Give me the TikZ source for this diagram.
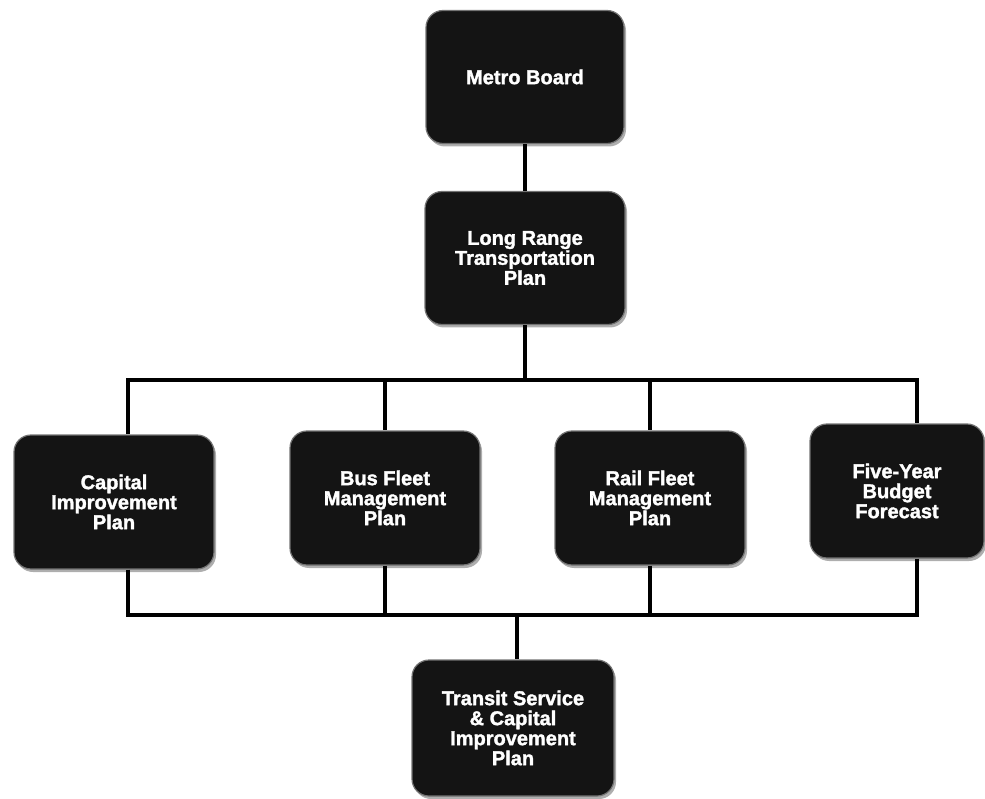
\documentclass[tikz,border=0pt]{standalone}
\usepackage{fontspec}
\newfontfamily\heavy{Liberation Sans}[FakeBold=1.6]
\usetikzlibrary{shadows}
\tikzset{
  box/.style={rectangle, rounded corners=17pt, fill=black!92, draw=black!55, line width=1.2pt,
    text=white, align=center, inner sep=0pt,
    font=\heavy\bfseries\fontsize{20}{20}\selectfont,
    drop shadow={shadow xshift=2pt, shadow yshift=-3pt, fill=black!45, opacity=0.7}},
  conn/.style={line width=3.8pt, black}
}
\begin{document}
\begin{tikzpicture}[x=1pt,y=-1pt]
\useasboundingbox (0,0) rectangle (985,799);
\node[box, minimum width=198pt, minimum height=133pt] (metro) at (525,77) {Metro Board};
\node[box, minimum width=200pt, minimum height=133pt] (lrtp) at (525,258) {Long Range\\Transportation\\Plan};
\node[box, minimum width=200pt, minimum height=134pt] (cip) at (114,502) {Capital\\Improvement\\Plan};
\node[box, minimum width=190pt, minimum height=134pt] (bus) at (385,498) {Bus Fleet\\Management\\Plan};
\node[box, minimum width=190pt, minimum height=134pt] (rail) at (650,498) {Rail Fleet\\Management\\Plan};
\node[box, minimum width=174pt, minimum height=134pt] (five) at (897,491) {Five-Year\\Budget\\Forecast};
\node[box, minimum width=202pt, minimum height=136pt] (tsc) at (513,728) {Transit Service\\\& Capital\\Improvement\\Plan};
\coordinate (tm) at (525,380);
\coordinate (t1) at (128,380);
\coordinate (t2) at (385,380);
\coordinate (t3) at (650,380);
\coordinate (t4) at (917,380);
\coordinate (bm) at (517,615);
\coordinate (b1) at (128,615);
\coordinate (b2) at (385,615);
\coordinate (b3) at (650,615);
\coordinate (b4) at (917,615);
\draw[conn] (metro.south) -- (lrtp.north);
\draw[conn] (lrtp.south) -- (tm);
\draw[conn, line cap=rect] (t1) -- (t4);
\draw[conn] (t1) -- (cip.north -| t1);
\draw[conn] (t2) -- (bus.north -| t2);
\draw[conn] (t3) -- (rail.north -| t3);
\draw[conn] (t4) -- (five.north -| t4);
\draw[conn, line cap=rect] (b1) -- (b4);
\draw[conn] (cip.south -| b1) -- (b1);
\draw[conn] (bus.south -| b2) -- (b2);
\draw[conn] (rail.south -| b3) -- (b3);
\draw[conn] (five.south -| b4) -- (b4);
\draw[conn] (bm) -- (tsc.north -| bm);
\end{tikzpicture}
\end{document}
